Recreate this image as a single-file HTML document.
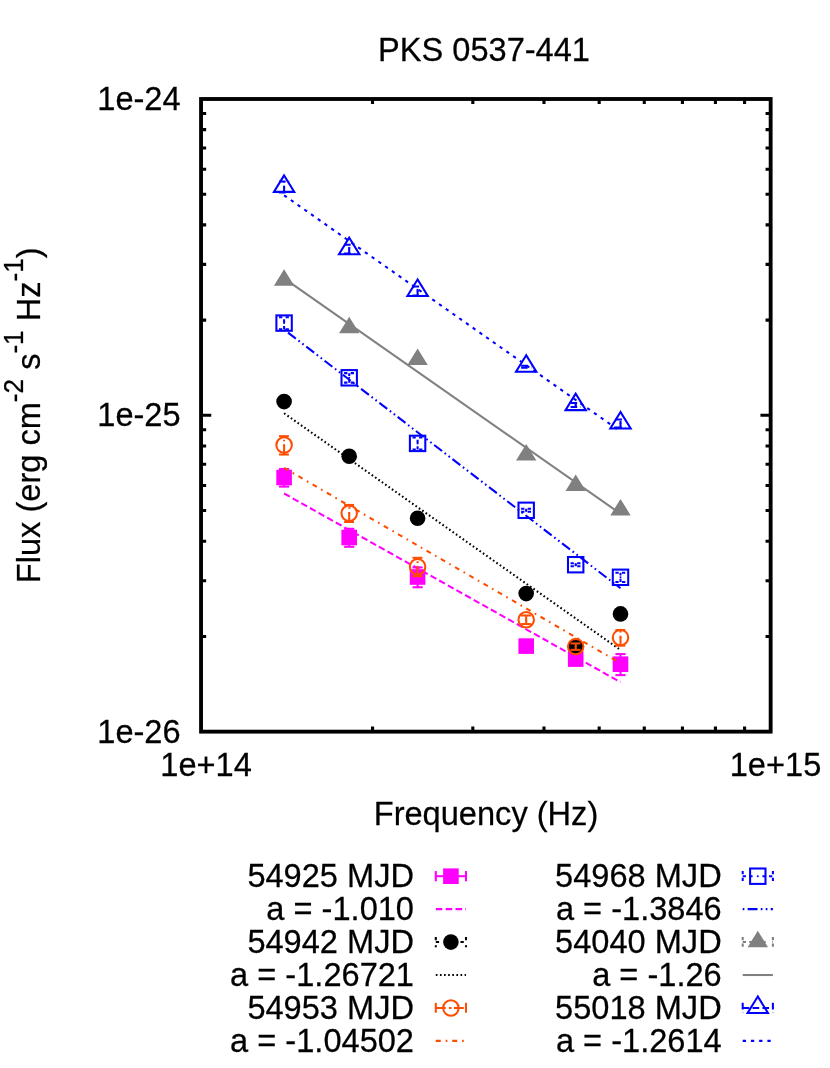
<!DOCTYPE html>
<html><head><meta charset="utf-8"><title>PKS 0537-441</title>
<style>html,body{margin:0;padding:0;background:#fff}body{width:830px;height:1068px;overflow:hidden;font-family:"Liberation Sans",sans-serif}</style>
</head><body>
<svg width="830" height="1068" viewBox="0 0 830 1068" style="display:block;will-change:transform">
<rect x="0" y="0" width="830" height="1068" fill="#fff"/>
<g stroke="#000" stroke-width="3.10" fill="none" stroke-linecap="butt">
<path d="M201.05 636.43h5.10M770.65 636.43h-5.10"/>
<path d="M201.05 580.72h5.10M770.65 580.72h-5.10"/>
<path d="M201.05 541.20h5.10M770.65 541.20h-5.10"/>
<path d="M201.05 510.55h5.10M770.65 510.55h-5.10"/>
<path d="M201.05 485.50h5.10M770.65 485.50h-5.10"/>
<path d="M201.05 464.32h5.10M770.65 464.32h-5.10"/>
<path d="M201.05 445.98h5.10M770.65 445.98h-5.10"/>
<path d="M201.05 429.80h5.10M770.65 429.80h-5.10"/>
<path d="M201.05 320.10h5.10M770.65 320.10h-5.10"/>
<path d="M201.05 264.40h5.10M770.65 264.40h-5.10"/>
<path d="M201.05 224.88h5.10M770.65 224.88h-5.10"/>
<path d="M201.05 194.22h5.10M770.65 194.22h-5.10"/>
<path d="M201.05 169.18h5.10M770.65 169.18h-5.10"/>
<path d="M201.05 148.00h5.10M770.65 148.00h-5.10"/>
<path d="M201.05 129.66h5.10M770.65 129.66h-5.10"/>
<path d="M201.05 113.47h5.10M770.65 113.47h-5.10"/>
<path d="M201.05 415.32h10.20M770.65 415.32h-10.20"/>
<path d="M372.52 731.65v-5.10M372.52 99.00v5.10"/>
<path d="M472.82 731.65v-5.10M472.82 99.00v5.10"/>
<path d="M543.98 731.65v-5.10M543.98 99.00v5.10"/>
<path d="M599.18 731.65v-5.10M599.18 99.00v5.10"/>
<path d="M644.28 731.65v-5.10M644.28 99.00v5.10"/>
<path d="M682.42 731.65v-5.10M682.42 99.00v5.10"/>
<path d="M715.45 731.65v-5.10M715.45 99.00v5.10"/>
<path d="M744.59 731.65v-5.10M744.59 99.00v5.10"/>
<rect x="201.05" y="99.00" width="569.60" height="632.65" stroke-linejoin="miter" stroke-width="3.85"/>
</g>
<g font-family="'Liberation Sans', sans-serif" font-size="32.6" fill="#000" stroke="#000" stroke-width="0.25" style="font-kerning:none">
<text transform="translate(484.00 60.60) scale(1 1.035)" text-anchor="middle">PKS 0537-441</text>
<text transform="translate(180.60 110.20) scale(1 1.035)" text-anchor="end">1e-24</text>
<text transform="translate(180.60 426.35) scale(1 1.035)" text-anchor="end">1e-25</text>
<text transform="translate(180.60 742.50) scale(1 1.035)" text-anchor="end">1e-26</text>
<text transform="translate(206.10 776.00) scale(1 1.035)" text-anchor="middle">1e+14</text>
<text transform="translate(775.50 776.00) scale(1 1.035)" text-anchor="middle">1e+15</text>
<text transform="translate(486.00 825.10) scale(1 1.035)" text-anchor="middle">Frequency (Hz)</text>
<text transform="translate(40.45 415.30) rotate(-90) scale(1 1.035)" text-anchor="middle">Flux (erg cm<tspan font-size="26.1" dy="-16.4">-2</tspan><tspan dy="16.4"> s</tspan><tspan font-size="26.1" dy="-16.4">-1</tspan><tspan dy="16.4"> Hz</tspan><tspan font-size="26.1" dy="-16.4">-1</tspan><tspan dy="16.4">)</tspan></text>
</g>
<g stroke="#ff00ff" stroke-width="2.06" fill="none"><path d="M284.10 486.59V468.97"/><path d="M279.00 486.59h10.20"/><path d="M279.00 468.97h10.20"/></g>
<rect x="276.30" y="469.70" width="15.60" height="15.60" fill="#ff00ff"/>
<g stroke="#ff00ff" stroke-width="2.06" fill="none"><path d="M349.20 546.81V528.78"/><path d="M344.10 546.81h10.20"/><path d="M344.10 528.78h10.20"/></g>
<rect x="341.40" y="529.70" width="15.60" height="15.60" fill="#ff00ff"/>
<g stroke="#ff00ff" stroke-width="2.06" fill="none"><path d="M417.60 587.27V567.44"/><path d="M412.50 587.27h10.20"/><path d="M412.50 567.44h10.20"/></g>
<rect x="409.80" y="569.20" width="15.60" height="15.60" fill="#ff00ff"/>
<g stroke="#ff00ff" stroke-width="2.06" fill="none"><path d="M526.20 648.11V644.11"/><path d="M521.10 648.11h10.20"/><path d="M521.10 644.11h10.20"/></g>
<rect x="518.40" y="638.30" width="15.60" height="15.60" fill="#ff00ff"/>
<g stroke="#ff00ff" stroke-width="2.06" fill="none"><path d="M575.70 662.13V656.13"/><path d="M570.60 662.13h10.20"/><path d="M570.60 656.13h10.20"/></g>
<rect x="567.90" y="651.30" width="15.60" height="15.60" fill="#ff00ff"/>
<g stroke="#ff00ff" stroke-width="2.06" fill="none"><path d="M620.50 675.12V654.08"/><path d="M615.40 675.12h10.20"/><path d="M615.40 654.08h10.20"/></g>
<rect x="612.70" y="656.40" width="15.60" height="15.60" fill="#ff00ff"/>
<path d="M284.10 493.50L620.50 682.19" stroke="#ff00ff" stroke-width="2.06" fill="none" stroke-dasharray="6.59 3.29" stroke-dashoffset="0.00"/>
<circle cx="284.10" cy="401.60" r="7.80" fill="#000"/>
<circle cx="349.20" cy="456.30" r="7.80" fill="#000"/>
<circle cx="417.60" cy="518.30" r="7.80" fill="#000"/>
<circle cx="526.20" cy="593.60" r="7.80" fill="#000"/>
<circle cx="575.70" cy="646.60" r="7.80" fill="#000"/>
<circle cx="620.50" cy="613.90" r="7.80" fill="#000"/>
<path d="M284.10 413.25L620.50 649.99" stroke="#000" stroke-width="2.06" fill="none" stroke-dasharray="1.65 2.47" stroke-dashoffset="0.00"/>
<g stroke="#ff4d00" stroke-width="2.06" fill="none" stroke-dasharray="9.88 3.29 1.65 3.29" stroke-dashoffset="0.00"><path d="M284.10 454.52V436.19"/><path d="M279.00 454.52h10.20"/><path d="M279.00 436.19h10.20"/></g>
<circle cx="284.10" cy="445.05" r="7.75" fill="none" stroke="#ff4d00" stroke-width="2.06"/><circle cx="284.10" cy="445.05" r="1" fill="#ff4d00"/>
<g stroke="#ff4d00" stroke-width="2.06" fill="none" stroke-dasharray="9.88 3.29 1.65 3.29" stroke-dashoffset="0.00"><path d="M349.20 521.97V504.95"/><path d="M344.10 521.97h10.20"/><path d="M344.10 504.95h10.20"/></g>
<circle cx="349.20" cy="513.20" r="7.75" fill="none" stroke="#ff4d00" stroke-width="2.06"/><circle cx="349.20" cy="513.20" r="1" fill="#ff4d00"/>
<g stroke="#ff4d00" stroke-width="2.06" fill="none" stroke-dasharray="9.88 3.29 1.65 3.29" stroke-dashoffset="0.00"><path d="M417.60 576.17V557.84"/><path d="M412.50 576.17h10.20"/><path d="M412.50 557.84h10.20"/></g>
<circle cx="417.60" cy="566.70" r="7.75" fill="none" stroke="#ff4d00" stroke-width="2.06"/><circle cx="417.60" cy="566.70" r="1" fill="#ff4d00"/>
<g stroke="#ff4d00" stroke-width="2.06" fill="none" stroke-dasharray="9.88 3.29 1.65 3.29" stroke-dashoffset="0.00"><path d="M526.20 624.07V615.47"/><path d="M521.10 624.07h10.20"/><path d="M521.10 615.47h10.20"/></g>
<circle cx="526.20" cy="619.70" r="7.75" fill="none" stroke="#ff4d00" stroke-width="2.06"/><circle cx="526.20" cy="619.70" r="1" fill="#ff4d00"/>
<g stroke="#ff4d00" stroke-width="2.06" fill="none" stroke-dasharray="9.88 3.29 1.65 3.29" stroke-dashoffset="0.00"><path d="M575.70 649.84V643.44"/><path d="M570.60 649.84h10.20"/><path d="M570.60 643.44h10.20"/></g>
<circle cx="575.70" cy="646.60" r="7.75" fill="none" stroke="#ff4d00" stroke-width="2.06"/><circle cx="575.70" cy="646.60" r="1" fill="#ff4d00"/>
<g stroke="#ff4d00" stroke-width="2.06" fill="none" stroke-dasharray="9.88 3.29 1.65 3.29" stroke-dashoffset="0.00"><path d="M620.50 645.63V630.01"/><path d="M615.40 645.63h10.20"/><path d="M615.40 630.01h10.20"/></g>
<circle cx="620.50" cy="637.60" r="7.75" fill="none" stroke="#ff4d00" stroke-width="2.06"/><circle cx="620.50" cy="637.60" r="1" fill="#ff4d00"/>
<path d="M284.10 467.95L620.50 663.18" stroke="#ff4d00" stroke-width="2.06" fill="none" stroke-dasharray="4.94 4.94 1.65 4.94" stroke-dashoffset="0.00"/>
<g stroke="#0000ff" stroke-width="2.06" fill="none" stroke-dasharray="3.29 3.29 3.29 9.88" stroke-dashoffset="0.00"><path d="M284.10 329.23V317.23"/><path d="M279.00 329.23h10.20"/><path d="M279.00 317.23h10.20"/></g>
<rect x="276.40" y="315.40" width="15.40" height="15.40" fill="none" stroke="#0000ff" stroke-width="2.06"/><circle cx="284.10" cy="323.10" r="1" fill="#0000ff"/>
<g stroke="#0000ff" stroke-width="2.06" fill="none" stroke-dasharray="3.29 3.29 3.29 9.88" stroke-dashoffset="0.00"><path d="M349.20 382.63V373.13"/><path d="M344.10 382.63h10.20"/><path d="M344.10 373.13h10.20"/></g>
<rect x="341.50" y="370.10" width="15.40" height="15.40" fill="none" stroke="#0000ff" stroke-width="2.06"/><circle cx="349.20" cy="377.80" r="1" fill="#0000ff"/>
<g stroke="#0000ff" stroke-width="2.06" fill="none" stroke-dasharray="3.29 3.29 3.29 9.88" stroke-dashoffset="0.00"><path d="M417.60 449.53V437.53"/><path d="M412.50 449.53h10.20"/><path d="M412.50 437.53h10.20"/></g>
<rect x="409.90" y="435.70" width="15.40" height="15.40" fill="none" stroke="#0000ff" stroke-width="2.06"/><circle cx="417.60" cy="443.40" r="1" fill="#0000ff"/>
<g stroke="#0000ff" stroke-width="2.06" fill="none" stroke-dasharray="3.29 3.29 3.29 9.88" stroke-dashoffset="0.00"><path d="M526.20 511.81V508.81"/><path d="M521.10 511.81h10.20"/><path d="M521.10 508.81h10.20"/></g>
<rect x="518.50" y="502.60" width="15.40" height="15.40" fill="none" stroke="#0000ff" stroke-width="2.06"/><circle cx="526.20" cy="510.30" r="1" fill="#0000ff"/>
<g stroke="#0000ff" stroke-width="2.06" fill="none" stroke-dasharray="3.29 3.29 3.29 9.88" stroke-dashoffset="0.00"><path d="M575.70 566.21V563.21"/><path d="M570.60 566.21h10.20"/><path d="M570.60 563.21h10.20"/></g>
<rect x="568.00" y="557.00" width="15.40" height="15.40" fill="none" stroke="#0000ff" stroke-width="2.06"/><circle cx="575.70" cy="564.70" r="1" fill="#0000ff"/>
<g stroke="#0000ff" stroke-width="2.06" fill="none" stroke-dasharray="3.29 3.29 3.29 9.88" stroke-dashoffset="0.00"><path d="M620.50 581.98V572.78"/><path d="M615.40 581.98h10.20"/><path d="M615.40 572.78h10.20"/></g>
<rect x="612.80" y="569.60" width="15.40" height="15.40" fill="none" stroke="#0000ff" stroke-width="2.06"/><circle cx="620.50" cy="577.30" r="1" fill="#0000ff"/>
<path d="M284.10 329.60L620.50 588.27" stroke="#0000ff" stroke-width="2.06" fill="none" stroke-dasharray="1.65 3.29 9.88 3.29 1.65 3.29" stroke-dashoffset="0.00"/>
<path d="M284.10 269.33L273.90 285.85L294.30 285.85Z" fill="#808080"/>
<path d="M349.20 316.84L339.00 333.36L359.40 333.36Z" fill="#808080"/>
<path d="M417.60 348.48L407.40 365.00L427.80 365.00Z" fill="#808080"/>
<path d="M526.20 443.98L516.00 460.50L536.40 460.50Z" fill="#808080"/>
<path d="M575.70 474.58L565.50 491.10L585.90 491.10Z" fill="#808080"/>
<path d="M620.50 498.88L610.30 515.40L630.70 515.40Z" fill="#808080"/>
<path d="M284.10 278.35L620.50 513.74" stroke="#808080" stroke-width="2.06" fill="none"/>
<g stroke="#0000ff" stroke-width="2.06" fill="none" stroke-dasharray="6.59 3.29" stroke-dashoffset="0.00"><path d="M284.10 192.41V181.41"/><path d="M279.00 192.41h10.20"/><path d="M279.00 181.41h10.20"/></g>
<path d="M284.10 175.38L273.90 191.90L294.30 191.90Z" fill="none" stroke="#0000ff" stroke-width="2.06" stroke-linejoin="miter"/><circle cx="284.10" cy="186.80" r="1" fill="#0000ff"/>
<g stroke="#0000ff" stroke-width="2.06" fill="none" stroke-dasharray="6.59 3.29" stroke-dashoffset="0.00"><path d="M349.20 253.53V244.73"/><path d="M344.10 253.53h10.20"/><path d="M344.10 244.73h10.20"/></g>
<path d="M349.20 237.64L339.00 254.16L359.40 254.16Z" fill="none" stroke="#0000ff" stroke-width="2.06" stroke-linejoin="miter"/><circle cx="349.20" cy="249.06" r="1" fill="#0000ff"/>
<g stroke="#0000ff" stroke-width="2.06" fill="none" stroke-dasharray="6.59 3.29" stroke-dashoffset="0.00"><path d="M417.60 295.48V286.47"/><path d="M412.50 295.48h10.20"/><path d="M412.50 286.47h10.20"/></g>
<path d="M417.60 279.48L407.40 296.00L427.80 296.00Z" fill="none" stroke="#0000ff" stroke-width="2.06" stroke-linejoin="miter"/><circle cx="417.60" cy="290.90" r="1" fill="#0000ff"/>
<g stroke="#0000ff" stroke-width="2.06" fill="none" stroke-dasharray="6.59 3.29" stroke-dashoffset="0.00"><path d="M526.20 367.70V365.70"/><path d="M521.10 367.70h10.20"/><path d="M521.10 365.70h10.20"/></g>
<path d="M526.20 355.28L516.00 371.80L536.40 371.80Z" fill="none" stroke="#0000ff" stroke-width="2.06" stroke-linejoin="miter"/><circle cx="526.20" cy="366.70" r="1" fill="#0000ff"/>
<g stroke="#0000ff" stroke-width="2.06" fill="none" stroke-dasharray="6.59 3.29" stroke-dashoffset="0.00"><path d="M575.70 407.06V403.06"/><path d="M570.60 407.06h10.20"/><path d="M570.60 403.06h10.20"/></g>
<path d="M575.70 393.63L565.50 410.15L585.90 410.15Z" fill="none" stroke="#0000ff" stroke-width="2.06" stroke-linejoin="miter"/><circle cx="575.70" cy="405.05" r="1" fill="#0000ff"/>
<g stroke="#0000ff" stroke-width="2.06" fill="none" stroke-dasharray="6.59 3.29" stroke-dashoffset="0.00"><path d="M620.50 427.46V419.46"/><path d="M615.40 427.46h10.20"/><path d="M615.40 419.46h10.20"/></g>
<path d="M620.50 411.98L610.30 428.50L630.70 428.50Z" fill="none" stroke="#0000ff" stroke-width="2.06" stroke-linejoin="miter"/><circle cx="620.50" cy="423.40" r="1" fill="#0000ff"/>
<path d="M284.10 195.30L620.50 431.40" stroke="#0000ff" stroke-width="2.06" fill="none" stroke-dasharray="3.29 4.94" stroke-dashoffset="0.00"/>
<g font-family="'Liberation Sans', sans-serif" font-size="32.6" fill="#000" stroke="#000" stroke-width="0.25" text-anchor="end" style="font-kerning:none">
<text transform="translate(414.00 887.05) scale(1 1.035)" text-anchor="end">54925 MJD</text>
<text transform="translate(721.70 887.05) scale(1 1.035)" text-anchor="end">54968 MJD</text>
<text transform="translate(414.00 919.99) scale(1 1.035)" text-anchor="end">a = -1.010</text>
<text transform="translate(721.70 919.99) scale(1 1.035)" text-anchor="end">a = -1.3846</text>
<text transform="translate(414.00 952.93) scale(1 1.035)" text-anchor="end">54942 MJD</text>
<text transform="translate(721.70 952.93) scale(1 1.035)" text-anchor="end">54040 MJD</text>
<text transform="translate(414.00 985.87) scale(1 1.035)" text-anchor="end">a = -1.26721</text>
<text transform="translate(721.70 985.87) scale(1 1.035)" text-anchor="end">a = -1.26</text>
<text transform="translate(414.00 1018.81) scale(1 1.035)" text-anchor="end">54953 MJD</text>
<text transform="translate(721.70 1018.81) scale(1 1.035)" text-anchor="end">55018 MJD</text>
<text transform="translate(414.00 1051.75) scale(1 1.035)" text-anchor="end">a = -1.04502</text>
<text transform="translate(721.70 1051.75) scale(1 1.035)" text-anchor="end">a = -1.2614</text>
</g>
<g stroke="#ff00ff" stroke-width="2.06" fill="none"><path d="M435.80 876.20H466.00"/><path d="M435.80 871.05v10.30"/><path d="M466.00 871.05v10.30"/></g>
<rect x="443.10" y="868.40" width="15.60" height="15.60" fill="#ff00ff"/>
<path d="M435.80 909.14H466.00" stroke="#ff00ff" stroke-width="2.06" fill="none" stroke-dasharray="6.59 3.29" stroke-dashoffset="0.00"/>
<g stroke="#000" stroke-width="2.06" fill="none" stroke-dasharray="3.29 4.94" stroke-dashoffset="0.00"><path d="M435.80 942.08H466.00"/><path d="M435.80 936.93v10.30"/><path d="M466.00 936.93v10.30"/></g>
<circle cx="450.90" cy="942.08" r="7.80" fill="#000"/>
<path d="M435.80 975.02H466.00" stroke="#000" stroke-width="2.06" fill="none" stroke-dasharray="1.65 2.47" stroke-dashoffset="0.00"/>
<g stroke="#ff4d00" stroke-width="2.06" fill="none" stroke-dasharray="9.88 3.29 1.65 3.29" stroke-dashoffset="0.00"><path d="M435.80 1007.96H466.00"/><path d="M435.80 1002.81v10.30"/><path d="M466.00 1002.81v10.30"/></g>
<circle cx="450.90" cy="1007.96" r="7.75" fill="none" stroke="#ff4d00" stroke-width="2.06"/><circle cx="450.90" cy="1007.96" r="1" fill="#ff4d00"/>
<path d="M435.80 1040.90H466.00" stroke="#ff4d00" stroke-width="2.06" fill="none" stroke-dasharray="4.94 4.94 1.65 4.94" stroke-dashoffset="0.00"/>
<g stroke="#0000ff" stroke-width="2.06" fill="none" stroke-dasharray="3.29 3.29 3.29 9.88" stroke-dashoffset="0.00"><path d="M742.70 876.20H772.90"/><path d="M742.70 871.05v10.30"/><path d="M772.90 871.05v10.30"/></g>
<rect x="750.10" y="868.50" width="15.40" height="15.40" fill="none" stroke="#0000ff" stroke-width="2.06"/><circle cx="757.80" cy="876.20" r="1" fill="#0000ff"/>
<path d="M742.70 909.14H772.90" stroke="#0000ff" stroke-width="2.06" fill="none" stroke-dasharray="1.65 3.29 9.88 3.29 1.65 3.29" stroke-dashoffset="0.00"/>
<g stroke="#808080" stroke-width="2.06" fill="none" stroke-dasharray="3.29 3.29 3.29 3.29 3.29 3.29 3.29 6.59" stroke-dashoffset="0.00"><path d="M742.70 942.08H772.90"/><path d="M742.70 936.93v10.30"/><path d="M772.90 936.93v10.30"/></g>
<path d="M757.80 930.66L747.60 947.18L768.00 947.18Z" fill="#808080"/>
<path d="M742.70 975.02H772.90" stroke="#808080" stroke-width="2.06" fill="none"/>
<g stroke="#0000ff" stroke-width="2.06" fill="none" stroke-dasharray="6.59 3.29" stroke-dashoffset="0.00"><path d="M742.70 1007.96H772.90"/><path d="M742.70 1002.81v10.30"/><path d="M772.90 1002.81v10.30"/></g>
<path d="M757.80 996.54L747.60 1013.06L768.00 1013.06Z" fill="none" stroke="#0000ff" stroke-width="2.06" stroke-linejoin="miter"/><circle cx="757.80" cy="1007.96" r="1" fill="#0000ff"/>
<path d="M742.70 1040.90H772.90" stroke="#0000ff" stroke-width="2.06" fill="none" stroke-dasharray="3.29 4.94" stroke-dashoffset="0.00"/>
</svg>
</body></html>
